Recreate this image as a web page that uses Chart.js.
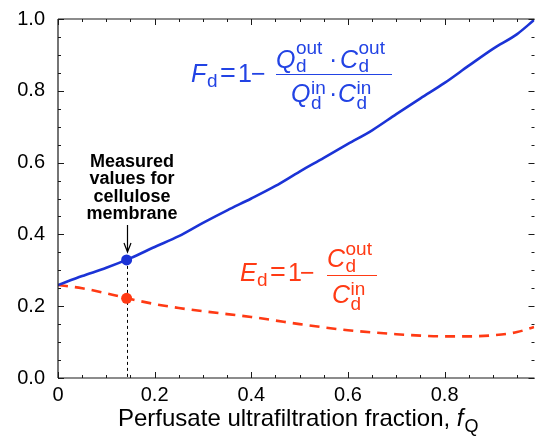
<!DOCTYPE html>
<html>
<head>
<meta charset="utf-8">
<script src="https://cdn.jsdelivr.net/npm/chart.js@4.4.1/dist/chart.umd.min.js"></script>
<style>
html,body{margin:0;padding:0;background:#fff;}
canvas{display:block;}
</style>
</head>
<body>
<canvas id="c" width="540" height="441"></canvas>
<script>
// ---- data ----
const xValues  = [0, 0.05, 0.10, 0.15, 0.20, 0.25, 0.30, 0.35, 0.40, 0.45, 0.50, 0.55, 0.60, 0.65, 0.70, 0.75, 0.80, 0.85, 0.90, 0.95, 0.985];
const fdValues = [0.259, 0.284, 0.307, 0.334, 0.365, 0.395, 0.432, 0.467, 0.500, 0.535, 0.575, 0.613, 0.652, 0.690, 0.735, 0.779, 0.822, 0.870, 0.917, 0.958, 0.997];
const edValues = [0.259, 0.250, 0.236, 0.220, 0.206, 0.195, 0.186, 0.178, 0.170, 0.160, 0.150, 0.141, 0.133, 0.127, 0.122, 0.118, 0.116, 0.116, 0.119, 0.128, 0.142];
const measuredX  = [0.142];
const measuredFd = [0.329];
const measuredEd = [0.222];
const xTicks = [0, 0.2, 0.4, 0.6, 0.8];
const yTicks = [0, 0.2, 0.4, 0.6, 0.8, 1.0];
const xMax = 0.986;

const BLUE = '#1b33d6';
const BLUE_T = '#2243e4';
const RED = '#ff3a14';
const FONT = '"Liberation Sans", Arial, Helvetica, sans-serif';
const MAIN = 25, SMALL = 19;

function pts(xs, ys){ return xs.map((x,i)=>({x:x, y:ys[i]})); }

function txt(ctx, s, x, y, size, opts){
  opts = opts || {};
  ctx.font = (opts.italic ? 'italic ' : '') + (opts.bold ? 'bold ' : '') + size + 'px ' + FONT;
  ctx.textAlign = opts.align || 'left';
  ctx.textBaseline = 'alphabetic';
  ctx.fillStyle = opts.color || '#000';
  ctx.fillText(s, x, y);
  return ctx.measureText(s).width;
}

function scripted(ctx, base, sup, sub, x, y, supY, subY, color){
  const w = txt(ctx, base, x, y, MAIN, {italic:true, color:color});
  const sx = x + w + 0.5;
  if (sup) txt(ctx, sup, sx, supY, SMALL, {color:color});
  if (sub) txt(ctx, sub, sx, subY, SMALL, {color:color});
}

const decor = {
  id: 'decor',
  beforeDatasetsDraw(chart){
    const ctx = chart.ctx, xs = chart.scales.x, ys = chart.scales.y;
    const px = xs.getPixelForValue(measuredX[0]);
    ctx.save();
    ctx.strokeStyle = '#000';
    ctx.lineWidth = 1;
    ctx.setLineDash([3,3]);
    ctx.beginPath();
    ctx.moveTo(Math.round(px)+0.5, ys.getPixelForValue(measuredFd[0]));
    ctx.lineTo(Math.round(px)+0.5, ys.getPixelForValue(0));
    ctx.stroke();
    ctx.restore();
  },
  afterDraw(chart){
    const ctx = chart.ctx, xs = chart.scales.x, ys = chart.scales.y;
    const a = chart.chartArea;
    ctx.save();
    ctx.strokeStyle = '#1a1a1a';
    ctx.lineWidth = 1.2;
    ctx.beginPath();
    ctx.moveTo(a.left, a.top); ctx.lineTo(a.left, a.bottom);
    ctx.moveTo(a.left, a.bottom); ctx.lineTo(a.right, a.bottom);
    ctx.moveTo(a.left, a.top); ctx.lineTo(a.right, a.top);
    ctx.stroke();
    ctx.lineWidth = 1;
    ctx.beginPath();
    for (let i = 0; i * 0.05 <= xMax + 1e-9; i++) {
      const p = Math.round(xs.getPixelForValue(i * 0.05)) + 0.5;
      const len = (i % 4 === 0) ? 6 : 3;
      ctx.moveTo(p, a.bottom); ctx.lineTo(p, a.bottom - len);
      ctx.moveTo(p, a.top); ctx.lineTo(p, a.top + len);
    }
    for (let i = 0; i <= 20; i++) {
      const p = Math.round(ys.getPixelForValue(i * 0.05)) + 0.5;
      const len = (i % 4 === 0) ? 6 : 3;
      ctx.moveTo(a.left, p); ctx.lineTo(a.left + len, p);
      ctx.moveTo(a.right, p); ctx.lineTo(a.right - len, p);
    }
    ctx.stroke();

    // x axis title
    ctx.font = '24px ' + FONT;
    const t1 = 'Perfusate ultrafiltration fraction, ';
    const w1 = ctx.measureText(t1).width;
    ctx.font = 'italic 24px ' + FONT;
    const w2 = ctx.measureText('f').width;
    ctx.font = '18px ' + FONT;
    const w3 = ctx.measureText('Q').width;
    const total = w1 + w2 + 1 + w3;
    const sx = (a.left + a.right) / 2 - total / 2 + 2;
    txt(ctx, t1, sx, 426, 24);
    txt(ctx, 'f', sx + w1, 426, 24, {italic:true});
    txt(ctx, 'Q', sx + w1 + w2 + 1, 432, 18);

    // annotation
    const lines = ['Measured', 'values for', 'cellulose', 'membrane'];
    const bl = [166.5, 184, 201.5, 219];
    lines.forEach((s, i) => txt(ctx, s, 132, bl[i], 18, {bold:true, align:'center'}));
    const ax = Math.round(xs.getPixelForValue(measuredX[0])) + 0.5;
    ctx.strokeStyle = '#000';
    ctx.lineWidth = 1.2;
    ctx.beginPath();
    ctx.moveTo(ax, 225); ctx.lineTo(ax, 251);
    ctx.moveTo(ax - 3.5, 243); ctx.lineTo(ax, 252); ctx.lineTo(ax + 3.5, 243);
    ctx.stroke();

    // blue equation
    const c1 = {color: BLUE_T};
    txt(ctx, 'F', 191, 82, MAIN, {italic:true, color:BLUE_T});
    txt(ctx, 'd', 207, 87, SMALL, c1);
    txt(ctx, '=', 220, 82, MAIN + 2, c1);
    txt(ctx, '1', 238, 82, MAIN, c1);
    txt(ctx, '\u2212', 251, 82, MAIN, c1);
    ctx.strokeStyle = BLUE_T; ctx.lineWidth = 1.2;
    ctx.beginPath(); ctx.moveTo(276, 74.5); ctx.lineTo(392, 74.5); ctx.stroke();
    scripted(ctx, 'Q', 'out', 'd', 276, 68, 54, 72, BLUE_T);
    txt(ctx, '\u00b7', 329, 68, MAIN, c1);
    scripted(ctx, 'C', 'out', 'd', 340, 68, 54, 72, BLUE_T);
    scripted(ctx, 'Q', 'in', 'd', 291, 102, 94, 109, BLUE_T);
    txt(ctx, '\u00b7', 329, 102, MAIN, c1);
    scripted(ctx, 'C', 'in', 'd', 338, 102, 94, 109, BLUE_T);

    // red equation
    const c2 = {color: RED};
    txt(ctx, 'E', 240, 281, MAIN, {italic:true, color:RED});
    txt(ctx, 'd', 257, 286, SMALL, c2);
    txt(ctx, '=', 270, 281, MAIN + 2, c2);
    txt(ctx, '1', 288, 281, MAIN, c2);
    txt(ctx, '\u2212', 300, 281, MAIN, c2);
    ctx.strokeStyle = RED; ctx.lineWidth = 1.2;
    ctx.beginPath(); ctx.moveTo(327, 275.5); ctx.lineTo(377, 275.5); ctx.stroke();
    scripted(ctx, 'C', 'out', 'd', 327, 267, 255, 272, RED);
    scripted(ctx, 'C', 'in', 'd', 332, 303, 295, 310, RED);
    ctx.restore();
  }
};

new Chart(document.getElementById('c'), {
  type: 'scatter',
  data: {
    datasets: [
      { data: pts(xValues, edValues), showLine: true, borderColor: RED, borderWidth: 2.6,
        borderDash: [10, 7], pointRadius: 0, cubicInterpolationMode: 'monotone', order: 3 },
      { data: pts(xValues, fdValues), showLine: true, borderColor: BLUE, borderWidth: 2.6,
        pointRadius: 0, cubicInterpolationMode: 'monotone', order: 2 },
      { data: pts(measuredX, measuredFd), pointRadius: 5.5, pointBackgroundColor: BLUE,
        pointBorderColor: BLUE, pointBorderWidth: 0, order: 1 },
      { data: pts(measuredX, measuredEd), pointRadius: 5.5, pointBackgroundColor: RED,
        pointBorderColor: RED, pointBorderWidth: 0, order: 1 }
    ]
  },
  options: {
    responsive: false,
    animation: false,
    events: [],
    layout: { padding: { top: 19, right: 0, left: 0, bottom: 0 } },
    plugins: { legend: { display: false }, tooltip: { enabled: false } },
    scales: {
      x: {
        type: 'linear', min: 0, max: xMax,
        grid: { display: false, drawTicks: false },
        border: { display: false },
        afterBuildTicks: s => { s.ticks = xTicks.map(v => ({ value: v })); },
        afterFit: s => { s.height = 63; s.paddingLeft = 0; s.paddingRight = 0; },
        ticks: { color: '#000', padding: 5, maxRotation: 0, autoSkip: false,
          font: { family: FONT, size: 20 },
          callback: v => v === 0 ? '0' : v.toFixed(1) }
      },
      y: {
        type: 'linear', min: 0, max: 1,
        grid: { display: false, drawTicks: false },
        border: { display: false },
        afterBuildTicks: s => { s.ticks = yTicks.map(v => ({ value: v })); },
        afterFit: s => { s.width = 58; s.paddingTop = 0; s.paddingBottom = 0; },
        ticks: { color: '#000', padding: 13, autoSkip: false,
          font: { family: FONT, size: 20 },
          callback: v => v.toFixed(1) }
      }
    }
  },
  plugins: [decor]
});
</script>
</body>
</html>
